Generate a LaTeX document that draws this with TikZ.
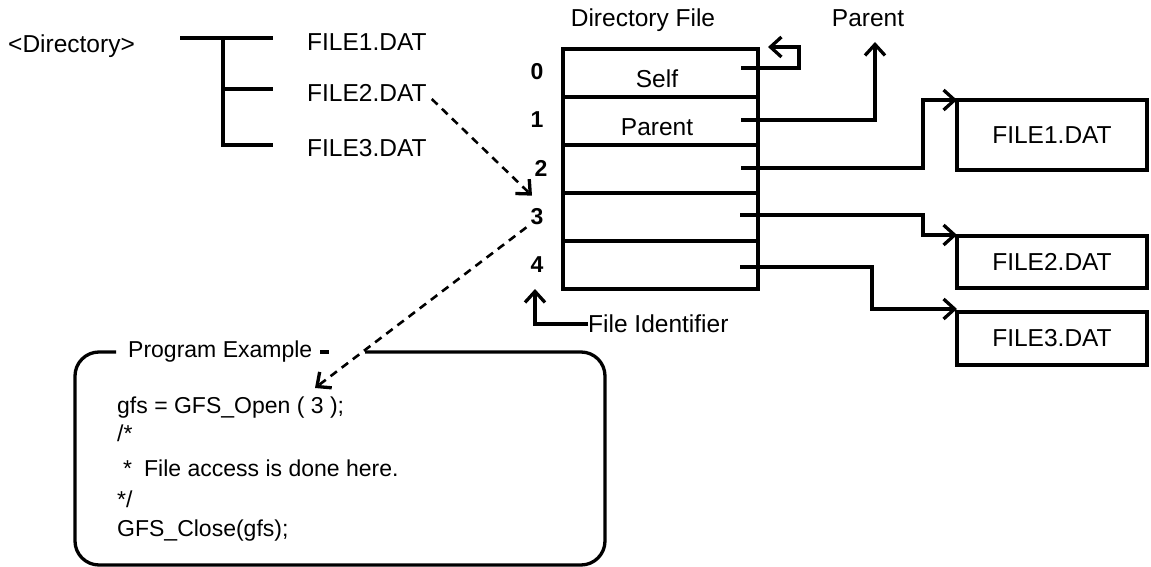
\documentclass[tikz,border=0pt]{standalone}
\usepackage{fontspec}
\setmainfont{Liberation Sans}
\usetikzlibrary{arrows.meta,calc}
\begin{document}
\begin{tikzpicture}[x=1pt,y=-1pt,
  txt/.style={font=\fontsize{24.5}{28}\selectfont, inner sep=0},
  code/.style={font=\fontsize{23}{27}\selectfont, inner sep=0, anchor=west},
  idx/.style={font=\fontsize{23}{27}\selectfont\bfseries, inner sep=0},
  wire/.style={line width=3.3pt},
  cell/.style={draw, line width=3.3pt, minimum width=195pt, minimum height=48pt,
               inner sep=0, outer sep=0, font=\fontsize{24.5}{28}\selectfont},
  fbox/.style={draw, line width=3.3pt, minimum width=190pt, inner sep=0, outer sep=0,
               font=\fontsize{24.5}{28}\selectfont},
  barb/.style={-{Straight Barb[length=11pt,width=20pt,line width=3.3pt]}},
  dashwire/.style={line width=2.6pt, dash pattern=on 8pt off 6pt},
]
\useasboundingbox (0,0) rectangle (1151,567);

% directory tree
\node[txt, anchor=west] (dir) at (8,46) {<Directory>};
\node[txt, anchor=west] (f1) at (307,42) {FILE1.DAT};
\node[txt, anchor=west] (f2) at (307,93) {FILE2.DAT};
\node[txt, anchor=west] (f3) at (307,148) {FILE3.DAT};
\coordinate (tr) at (223,38);
\draw[wire] (180,38) -- (273,38);
\draw[wire] (tr) -- (223,145) -- (273,145);
\draw[wire] (223,89) -- (273,89);

% directory file table
\node[txt] (title) at (643,20) {Directory File};
\node[cell, anchor=north west] (r0) at (563,49) {};
\node[cell, anchor=north] (r1) at (r0.south) {};
\node[cell, anchor=north] (r2) at (r1.south) {};
\node[cell, anchor=north] (r3) at (r2.south) {};
\node[cell, anchor=north] (r4) at (r3.south) {};
\node[txt] (self) at (657,79) {Self};
\node[txt] (par) at (657,127) {Parent};

\node[idx] (i0) at (537,72) {0};
\node[idx] (i1) at (537,120) {1};
\node[idx] (i2) at (541,168) {2};
\node[idx] (i3) at (537,217) {3};
\node[idx] (i4) at (537,265) {4};

% file boxes
\node[fbox, minimum height=70pt, anchor=north west] (b1) at (957,100) {FILE1.DAT};
\node[fbox, minimum height=52pt, anchor=north west] (b2) at (957,236) {FILE2.DAT};
\node[fbox, minimum height=53pt, anchor=north west] (b3) at (957,312) {FILE3.DAT};
\node[txt] (ptop) at (868,18) {Parent};
\coordinate (ptip) at (875,42);

% entry pointers
\coordinate (p0) at ($(r0.east)+(-17,-5)$);
\coordinate (p1) at ($(r1.east)+(-17,-1)$);
\coordinate (p2) at ($(r2.east)+(-17,-1)$);
\coordinate (p3) at ($(r3.east)+(-18,-2)$);
\coordinate (p4) at ($(r4.east)+(-18,2)$);
\draw[wire, barb] (p0) -| (799,47) -- (768,47);
\draw[wire, barb] (p1) -| (ptip);
\draw[wire, barb] (p2) -| (923,100) -- (b1.north west);
\draw[wire, barb] (p3) -| (923,235) -- ($(b2.north west)+(0,-1)$);
\draw[wire, barb] (p4) -| (872,309) -- ($(b3.north west)+(0,-3)$);

% file identifier
\node[txt, anchor=west] (fid) at (588,324) {File Identifier};
\draw[wire, barb] (fid.west) -- (535,324) -- (535,289);

% program example box
\node[code] (pe) at (128,352) {Program Example};
\draw[wire, rounded corners=24pt] (365,352) -- (605,352) -- (605,565) -- (75,565) -- (75,352) -- (116,352);
\draw[wire] (320,352) -- (329,352);
\node[code] (c1) at (117,408) {gfs = GFS\_Open ( 3 );};
\node[code] (c2) at (117,433) {/*};
\node[code] (c3) at (117,468) {\hspace{6pt}*\hspace{12pt}File access is done here.};
\node[code] (c4) at (117,499) {*/};
\node[code] (c5) at (117,531) {GFS\_Close(gfs);};

% dashed references
\draw[dashwire, barb] ($(f2.east)+(5,6)$) -- ($(i3.north)+(-5,-13)$);
\draw[dashwire, barb] ($(i3.south west)+(-4,2)$) -- (315,388);
\end{tikzpicture}
\end{document}
